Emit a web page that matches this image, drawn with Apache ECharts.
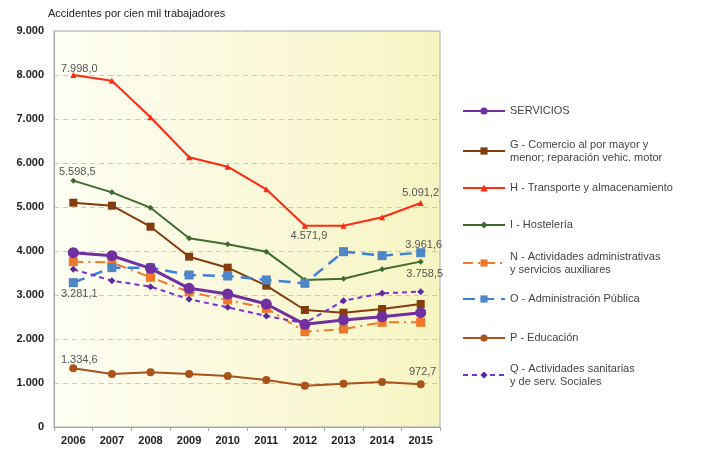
<!DOCTYPE html>
<html>
<head>
<meta charset="utf-8">
<script src="https://cdn.jsdelivr.net/npm/echarts@6/dist/echarts.min.js"></script>
<style>
  html, body { margin: 0; padding: 0; background: #fff; }
  #chart { width: 707px; height: 450px; }
</style>
</head>
<body>
<div id="chart"></div>
<script>
// datos
var years = ["2006", "2007", "2008", "2009", "2010", "2011", "2012", "2013", "2014", "2015"];
var servicios = [3962, 3893, 3606, 3152, 3023, 2795, 2333, 2432, 2507, 2598];
var comercio = [5098, 5030, 4553, 3871, 3621, 3212, 2659, 2598, 2682, 2795];
var transporte = [7998.0, 7870, 7040, 6130, 5916, 5402, 4571.9, 4575, 4766, 5091.2];
var hosteleria = [5598.5, 5333, 4985, 4288, 4152, 3985, 3341, 3371, 3583, 3758.5];
var administrativas = [3757, 3740, 3402, 3070, 2886, 2697, 2167, 2227, 2379, 2379];
var publica = [3281.1, 3621, 3621, 3455, 3432, 3341, 3265, 3985, 3894, 3961.6];
var educacion = [1334.6, 1205, 1242, 1205, 1159, 1068, 939, 985, 1023, 972.7];
var sanitarias = [3583, 3326, 3189, 2902, 2720, 2523, 2360, 2871, 3038, 3076];
var yTicks = [0, 1000, 2000, 3000, 4000, 5000, 6000, 7000, 8000, 9000];

var names = [
  "SERVICIOS",
  "G - Comercio al por mayor y menor; reparación vehic. motor",
  "H - Transporte y almacenamiento",
  "I - Hostelería",
  "N - Actividades administrativas y servicios auxiliares",
  "O - Administración Pública",
  "P - Educación",
  "Q - Actividades sanitarias y de serv. Sociales"
];
var legendText = [
  "SERVICIOS",
  "G - Comercio al por mayor y\nmenor; reparación vehic. motor",
  "H - Transporte y almacenamiento",
  "I - Hostelería",
  "N - Actividades administrativas\ny servicios auxiliares",
  "O - Administración Pública",
  "P - Educación",
  "Q - Actividades sanitarias\ny de serv. Sociales"
];

// formato español: 7.998,0
function fmt(v, dec) {
  var s = v.toFixed(dec).split(".");
  var ent = s[0].replace(/\B(?=(\d{3})+(?!\d))/g, ".");
  return dec ? ent + "," + s[1] : ent;
}

// etiquetas de puntos: [serie, índice, posición, desplazamiento]
var pointLabels = [
  [2, 0, "top", [6, 6]],
  [3, 0, "top", [4, 4]],
  [2, 6, "bottom", [4, -2]],
  [2, 9, "top", [0, 2]],
  [5, 9, "top", [3, 6]],
  [3, 9, "bottom", [4, 0]],
  [5, 0, "bottom", [6, -3]],
  [6, 0, "top", [6, 5]],
  [6, 9, "top", [2, 1]]
];

function withLabels(idx, values) {
  return values.map(function (v, i) {
    var item = { value: v };
    pointLabels.forEach(function (p) {
      if (p[0] === idx && p[1] === i) {
        item.label = {
          show: true,
          position: p[2],
          offset: p[3],
          distance: 4,
          color: "#555",
          fontSize: 11,
          fontFamily: "Liberation Sans",
          formatter: function (d) { return fmt(d.value, 1); }
        };
      }
    });
    return item;
  });
}

var styles = [
  { data: servicios, color: "#7030a0", width: 3, type: "solid", symbol: "circle", size: 11, z: 9 },
  { data: comercio, color: "#843c0c", width: 2, type: "solid", symbol: "rect", size: 8, z: 3 },
  { data: transporte, color: "#ff2a10", width: 2, type: "solid", symbol: "triangle", size: 6, z: 3 },
  { data: hosteleria, color: "#3d6b2c", width: 2, type: "solid", symbol: "diamond", size: 6, z: 3 },
  { data: administrativas, color: "#f0782a", width: 2, type: [10, 5, 2, 5], symbol: "rect", size: 9, z: 4 },
  { data: publica, color: "#3a80e0", width: 2.5, type: [12, 7], symbol: "rect", size: 9, z: 4, fill: "#4f86c6" },
  { data: educacion, color: "#a9521a", width: 2, type: "solid", symbol: "circle", size: 8, z: 3 },
  { data: sanitarias, color: "#7a2fd6", width: 2, type: [5, 4], symbol: "diamond", size: 7, z: 5, fill: "#5b2a9a" }
];

var series = styles.map(function (s, i) {
  return {
    name: names[i],
    type: "line",
    data: withLabels(i, s.data),
    symbol: s.symbol,
    symbolSize: s.size,
    z: s.z,
    lineStyle: { color: s.color, width: s.width, type: s.type },
    itemStyle: { color: s.fill || s.color },
    emphasis: { disabled: true }
  };
});

// una leyenda por elemento, colocadas a mano
var legendCenters = [111, 151, 188, 225, 263, 299, 338, 375];
var legends = names.map(function (n, i) {
  var twoLines = legendText[i].indexOf("\n") >= 0;
  var h = twoLines ? 39 : 13;
  return {
    data: [n],
    left: 462,
    top: legendCenters[i] - h / 2,
    padding: 0,
    itemWidth: 42,
    itemHeight: 9,
    itemGap: 4,
    selectedMode: false,
    formatter: function () { return legendText[i]; },
    textStyle: {
      fontSize: 11,
      lineHeight: 13,
      color: "#444",
      fontFamily: "Liberation Sans",
      padding: twoLines ? [13, 0, 0, 0] : 0
    }
  };
});

var myChart = echarts.init(document.getElementById("chart"), null, { renderer: "canvas" });

var option = {
  backgroundColor: "#fff",
  animation: false,
  title: {
    text: "Accidentes por cien mil trabajadores",
    left: 48,
    top: 8,
    padding: 0,
    textStyle: { fontSize: 11, fontWeight: "normal", color: "#222", fontFamily: "Liberation Sans" }
  },
  legend: legends,
  grid: {
    left: 54,
    right: 267,
    top: 31,
    bottom: 23,
    show: true,
    borderColor: "#a8a8a8",
    borderWidth: 1,
    backgroundColor: {
      type: "linear", x: 0, y: 0, x2: 1, y2: 0,
      colorStops: [
        { offset: 0, color: "#fefef4" },
        { offset: 1, color: "#f7f4c2" }
      ]
    }
  },
  xAxis: {
    type: "category",
    data: years,
    boundaryGap: true,
    axisLine: { lineStyle: { color: "#a8a8a8" } },
    axisTick: { show: true, length: 4, lineStyle: { color: "#a8a8a8" } },
    axisLabel: { color: "#222", fontSize: 11, fontWeight: "bold", margin: 8, fontFamily: "Liberation Sans" }
  },
  yAxis: {
    type: "value",
    min: yTicks[0],
    max: yTicks[yTicks.length - 1],
    interval: 1000,
    axisLine: { show: true, lineStyle: { color: "#a8a8a8" } },
    axisTick: { show: false },
    axisLabel: {
      color: "#222", fontSize: 11, fontWeight: "bold", margin: 10, fontFamily: "Liberation Sans",
      formatter: function (v) { return fmt(v, 0); }
    },
    splitLine: { lineStyle: { color: "#c8c8c8", type: [5, 4] } }
  },
  series: series
};

myChart.setOption(option);
</script>
</body>
</html>
